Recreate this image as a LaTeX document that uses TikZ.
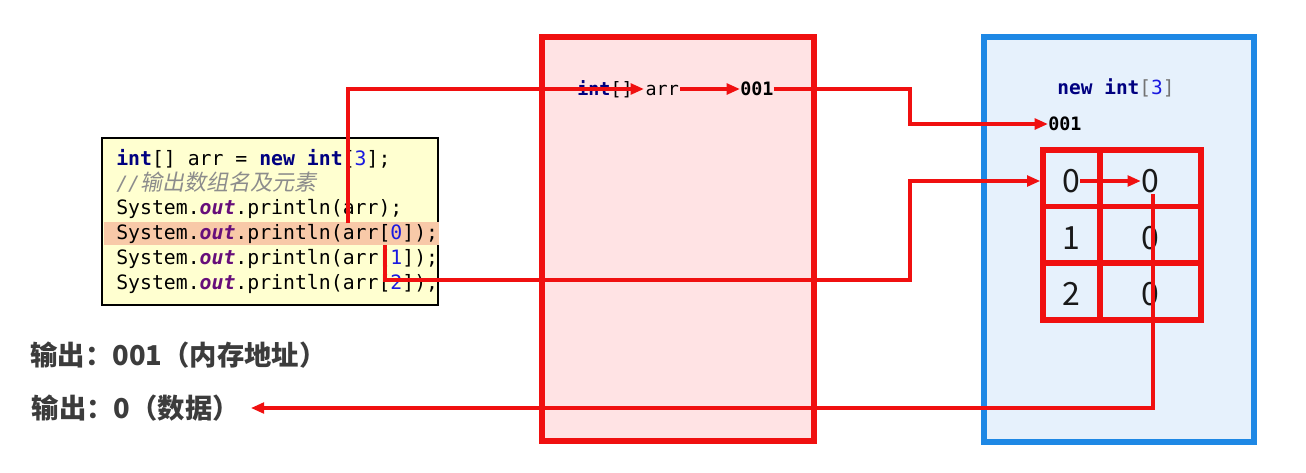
\documentclass[tikz,border=0pt]{standalone}
\usepackage{fontspec}
\setmonofont{DejaVu Sans Mono}
\newfontfamily\cjk{Noto Sans CJK SC}
\newfontfamily\cjkit[FakeSlant=0.2]{Noto Sans CJK SC}
\usetikzlibrary{arrows.meta}
\definecolor{kw}{HTML}{000080}
\definecolor{outc}{HTML}{660E7A}
\definecolor{num}{HTML}{1A1AE0}
\definecolor{cmt}{HTML}{8C8C8C}
\definecolor{redl}{HTML}{F01010}
\definecolor{stackfill}{HTML}{FFE3E4}
\definecolor{heapfill}{HTML}{E6F1FC}
\definecolor{heapline}{HTML}{1E88E5}
\definecolor{codefill}{HTML}{FFFFD0}
\definecolor{hilite}{HTML}{F8C9A8}
\definecolor{outtxt}{HTML}{3C3C3C}
\newcommand{\kwd}[1]{\textbf{\color{kw}#1}}
\newcommand{\outw}[1]{\textbf{\textit{\color{outc}#1}}}
\newcommand{\nm}[1]{{\color{num}#1}}
\tikzset{
  codeline/.style={anchor=west,inner sep=0pt,font=\ttfamily\fontsize{14.85}{17}\selectfont,text height=0.9em,text depth=0.2em},
  memtxt/.style={inner sep=0pt,font=\ttfamily\fontsize{13.8}{16}\selectfont,text height=1.12em,text depth=0.1em},
  cell/.style={inner sep=0pt,font=\cjk\fontsize{24}{26}\selectfont,text=black!90},
  outline/.style={anchor=west,inner sep=1pt,font=\cjk\bfseries\fontsize{20.5}{23}\selectfont,text=outtxt},
  link/.style={draw=redl,line width=2.5pt,-{Triangle[length=10pt,width=8pt]}},
}
\begin{document}
\begin{tikzpicture}[x=0.75pt,y=-0.75pt]
\useasboundingbox (0,0) rectangle (1306,472);
% stack and heap
\node[draw=redl,line width=4pt,fill=stackfill,minimum width=272*0.75pt,minimum height=404*0.75pt,inner sep=0pt] (stack) at (678,239) {};
\node[draw=heapline,line width=4pt,fill=heapfill,minimum width=270*0.75pt,minimum height=405*0.75pt,inner sep=0pt] (heap) at (1119,239.5) {};
% code box
\node[draw=black,line width=1.6pt,fill=codefill,minimum width=336*0.75pt,minimum height=167*0.75pt,inner sep=0pt] (code) at (270,221.5) {};
\fill[hilite] (103.5,222) rectangle (438.5,245);
\node[codeline] (l1) at (116,161) {\kwd{int}[] arr = \kwd{new} \kwd{int}[\nm{3}];};
\node[codeline] (l2) at (116,186) {\color{cmt}\textit{//}{\cjkit\fontsize{16.5}{17}\selectfont 输出数组名及元素}};
\node[codeline] (l3) at (116,210) {System.\outw{out}.println(arr);};
\node[codeline] (l4) at (116,235) {System.\outw{out}.println(arr[\nm{0}]);};
\node[codeline] (l5) at (116,260) {System.\outw{out}.println(arr[\nm{1}]);};
\node[codeline] (l6) at (116,285) {System.\outw{out}.println(arr[\nm{2}]);};
% stack content
\node[memtxt,anchor=west] (sttype) at (577,89) {\kwd{int}[]};
\node[memtxt,anchor=west,inner xsep=1pt] (starr) at (644,89) {arr};
\node[memtxt,anchor=west] (st001) at (740,89) {\textbf{001}};
% heap content
\node[memtxt,font=\ttfamily\fontsize{14.6}{17}\selectfont] (hnew) at (1116,88) {\kwd{new int}{\color{black!55}[}\nm{3}{\color{black!55}]}};
\node[memtxt,anchor=west] (h001) at (1048,124) {\textbf{001}};
% table
\coordinate (tnw) at (1043,150);
\coordinate (tse) at (1201,320);
\draw[redl,line width=4pt] (tnw) rectangle (tse);
\draw[redl,line width=4pt] (1100,150) -- (1100,320);
\draw[redl,line width=4pt] (1043,206.5) -- (1201,206.5);
\draw[redl,line width=4pt] (1043,263) -- (1201,263);
\node[cell] (i0) at (1071,181) {0};
\node[cell] (v0) at (1150,181) {0};
\node[cell] (i1) at (1071,238) {1};
\node[cell] (v1) at (1150,238) {0};
\node[cell] (i2) at (1071,294) {2};
\node[cell] (v2) at (1150,294) {0};
% outputs
\node[outline] (out1) at (29,355) {输出：001（内存地址）};
\node[outline,inner xsep=8pt] (out2) at (21,408) {输出：0（数据）};
% connectors
\coordinate (a1s) at (348,223);
\draw[link] (a1s) |- (starr.west);
\draw[link] (starr.east) -- (st001.west);
\coordinate (b1) at (910,89);
\draw[link] (st001.east) -- (b1) |- (h001.west);
\coordinate (c0) at (385,245);
\coordinate (c1) at (385,280);
\coordinate (c2) at (910,280);
\draw[link] (c0) -- (c1) -- (c2) |- ([xshift=-2pt]i0.west -| tnw);
\draw[link] (i0.east) -- (v0.west);
\coordinate (d0) at (1153,194);
\coordinate (d1) at (1153,408);
\draw[link] (d0) -- (d1) -- (out2.east);
\end{tikzpicture}
\end{document}
